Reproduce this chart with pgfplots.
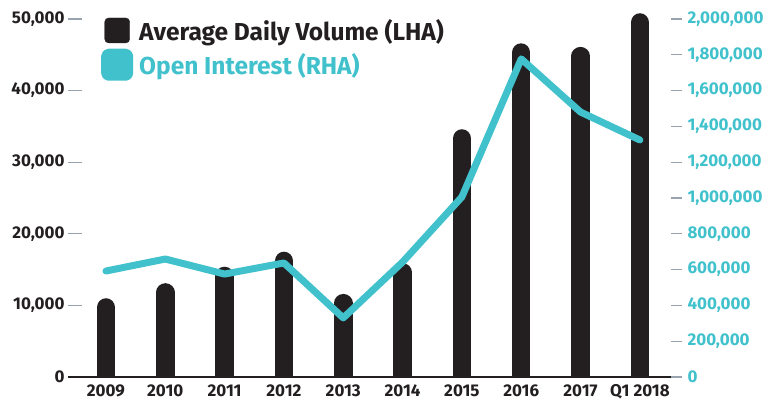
\documentclass[border=0pt]{standalone}
\usepackage{fontspec}
\setmainfont{Fira Sans}
\usepackage{pgfplots}
\usepackage{pgfplotstable}
\pgfplotsset{compat=1.18}
\definecolor{barc}{HTML}{231F20}
\definecolor{tealc}{HTML}{40C1CC}
\definecolor{tickc}{HTML}{97A3AF}

\pgfplotstableread{
x vol oi
0 11000 592000
1 13100 659000
2 15400 575000
3 17500 637000
4 11600 330000
5 15900 642000
6 34600 1006000
7 46600 1777000
8 46100 1480000
9 50800 1324000
}\datatable

\begin{document}
\begin{tikzpicture}
\begin{axis}[
  at={(0,0)}, anchor=south west,
  scale only axis, width=614pt, height=377pt,
  xmin=-0.64, xmax=9.71, ymin=0, ymax=52650,
  axis x line*=bottom, axis y line*=left,
  x axis line style={draw=barc, line width=2pt, -},
  y axis line style={draw=none},
  xtick={0,...,9},
  xticklabels={2009,2010,2011,2012,2013,2014,2015,2016,2017,Q1 2018},
  x tick style={draw=none},
  xticklabel style={font=\bfseries\fontsize{17}{17}\selectfont, text=barc, yshift=-8.5pt,
    text height=0.72em, text depth=0.05em},
  ytick={0,10000,20000,30000,40000,50000},
  y tick style={draw=tickc, line width=1.2pt},
  tick align=inside, major tick length=14pt,
  yticklabel style={font=\bfseries\fontsize{17}{17}\selectfont, text=barc, xshift=0pt,
    /pgf/number format/.cd, fixed, precision=0, 1000 sep={,}, assume math mode=true},
  scaled y ticks=false,
]
\addplot[ycomb, draw=barc, line width=18.5pt, line cap=round, yshift=-9.25pt, mark=none] table[x=x, y=vol] {\datatable};
\end{axis}
\begin{axis}[
  at={(0,0)}, anchor=south west,
  scale only axis, width=614pt, height=377pt,
  xmin=-0.64, xmax=9.71, ymin=0, ymax=2106000,
  axis x line=none, axis y line*=right,
  y axis line style={draw=none},
  ytick={0,200000,400000,600000,800000,1000000,1200000,1400000,1600000,1800000,2000000},
  y tick style={draw=tickc, line width=1.2pt},
  tick align=inside, major tick length=11pt,
  yticklabel style={font=\bfseries\fontsize{17}{17}\selectfont, text=tealc, xshift=2pt,
    /pgf/number format/.cd, fixed, precision=0, 1000 sep={,}, assume math mode=true},
  scaled y ticks=false,
  legend style={at={(0,1)}, anchor=north west, xshift=33pt, yshift=-17pt,
    draw=none, fill=none, inner sep=0pt, row sep=5pt,
    font=\bfseries\fontsize{24.5}{24.5}\selectfont, text=barc,
    /tikz/every odd column/.append style={column sep=4pt}},
  legend cell align=left,
]
\addlegendimage{legend image code/.code={\fill[barc, rounded corners=4pt] (0pt,-12.5pt) rectangle (25pt,12.5pt);}}
\addlegendentry{Average Daily Volume (LHA)}
\addplot[draw=tealc, line width=7pt, line cap=round, line join=round, mark=none,
  legend image code/.code={\fill[tealc, rounded corners=4pt] (0pt,-12.5pt) rectangle (25pt,12.5pt);}]
  table[x=x, y=oi] {\datatable};
\addlegendentry[text=tealc]{Open Interest (RHA)}
\end{axis}
\pgfresetboundingbox
\path[use as bounding box] (-68pt,-29pt) rectangle (703pt,377pt);
\end{tikzpicture}
\end{document}
